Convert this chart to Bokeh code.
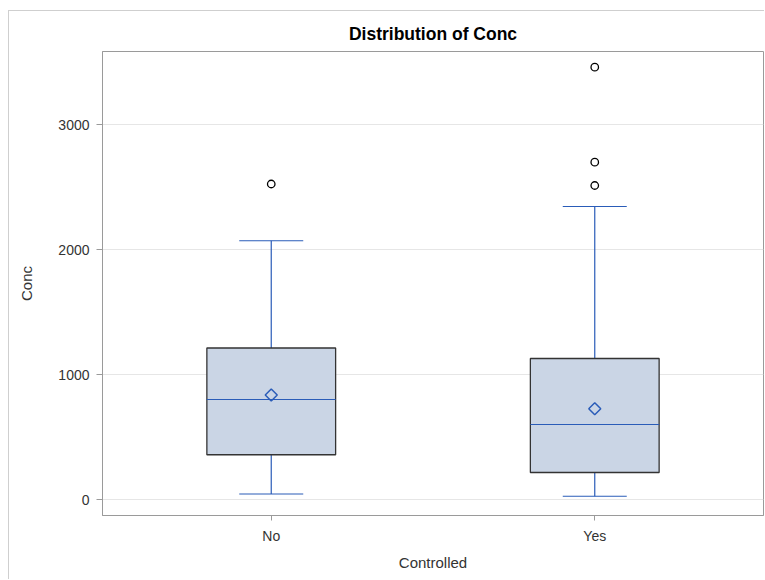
from bokeh.plotting import figure
from bokeh.models import Range1d, FactorRange, Whisker, TeeHead, ColumnDataSource
from bokeh.transform import dodge
from bokeh.embed import file_html
from bokeh.resources import INLINE

# ---- data ----
categories = ["No", "Yes"]
q1 = [360, 218]
median = [802, 602]
q3 = [1214, 1130]
whisker_low = [46, 28]
whisker_high = [2072, 2346]
means = [838, 728]
outlier_cat = ["No", "Yes", "Yes", "Yes"]
outlier_val = [2526, 2514, 2701, 3461]
y_ticks = [0, 1000, 2000, 3000]

BLUE = "#2A5CB8"
FONT = "Liberation Sans"
BOX_W = 0.398

p = figure(
    width=756, height=569,
    x_range=FactorRange(factors=categories, range_padding=0.0216, range_padding_units="absolute"),
    y_range=Range1d(-126, 3586),
    output_backend="svg", toolbar_location=None,
    title="Distribution of Conc",
    min_border_left=93, min_border_right=2, min_border_top=40, min_border_bottom=65,
)
p.margin = (10, 0, 0, 8)
p.styles = {"border-left": "1px solid #cfcfcf", "border-top": "1px solid #cfcfcf"}

p.title.align = "center"
p.title.text_font = FONT
p.title.text_font_size = "17.5px"
p.title.text_font_style = "bold"
p.title.text_color = "#000000"
p.title.standoff = 16

src = ColumnDataSource(dict(cat=categories, q1=q1, med=median, q3=q3,
                            lo=whisker_low, hi=whisker_high, mean=means))

# boxes
p.vbar(x="cat", bottom="q1", top="q3", width=BOX_W, source=src,
       fill_color="#CAD5E5", line_color="#333333", line_width=1.3)

# whiskers
p.add_layout(Whisker(source=src, base="cat", lower="q3", upper="hi", dimension="height",
                     line_color=BLUE, line_width=1.2,
                     upper_head=TeeHead(size=64, line_color=BLUE, line_width=1.2),
                     lower_head=None))
p.add_layout(Whisker(source=src, base="cat", lower="lo", upper="q1", dimension="height",
                     line_color=BLUE, line_width=1.2,
                     lower_head=TeeHead(size=64, line_color=BLUE, line_width=1.2),
                     upper_head=None))

# median
p.segment(x0=dodge("cat", -BOX_W / 2, range=p.x_range), y0="med",
          x1=dodge("cat", BOX_W / 2, range=p.x_range), y1="med",
          source=src, line_color=BLUE, line_width=1.2)

# mean
p.scatter(x="cat", y="mean", source=src, marker="square", angle=0.785398, size=8.5,
          fill_alpha=0, line_color=BLUE, line_width=1.5)

# outliers
p.scatter(x=outlier_cat, y=outlier_val, marker="circle", size=7.5,
          fill_alpha=0, line_color="#000000", line_width=1.3)

# axes styling
p.xgrid.grid_line_color = None
p.ygrid.grid_line_color = "#e6e6e6"
p.ygrid.grid_line_width = 1
p.outline_line_color = "#9a9a9a"
p.outline_line_width = 1

p.yaxis.ticker = y_ticks
p.yaxis.axis_label = "Conc"
p.xaxis.axis_label = "Controlled"
for ax in (p.xaxis, p.yaxis):
    ax.axis_line_color = "#9a9a9a"
    ax.major_tick_line_color = "#9a9a9a"
    ax.minor_tick_line_color = None
    ax.major_tick_in = 0
    ax.major_label_text_font = FONT
    ax.major_label_text_font_size = "14px"
    ax.major_label_text_color = "#333333"
    ax.axis_label_text_font = FONT
    ax.axis_label_text_font_size = "15px"
    ax.axis_label_text_font_style = "normal"
    ax.axis_label_text_color = "#333333"
p.yaxis.major_tick_out = 6
p.yaxis.major_label_standoff = 7
p.yaxis.axis_label_standoff = 20
p.xaxis.major_tick_out = 5
p.xaxis.major_label_standoff = 7
p.xaxis.axis_label_standoff = 7

open("out.html", "w").write(file_html(p, INLINE))
